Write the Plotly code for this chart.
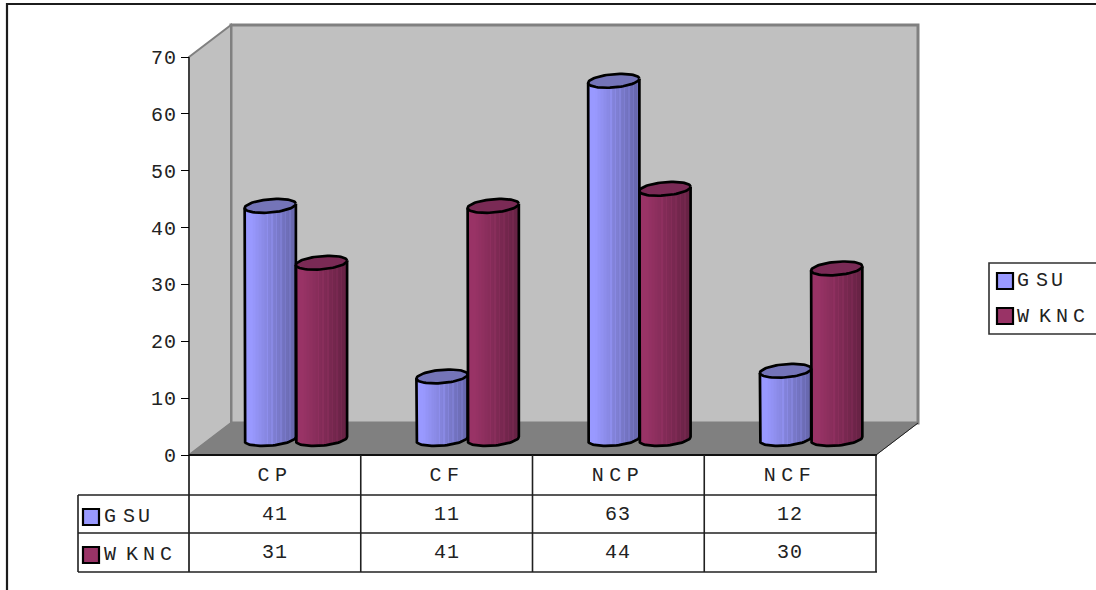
import numpy as np
import plotly.graph_objects as go

# Chart data
categories = ["CP", "CF", "NCP", "NCF"]
gsu_values = [41, 11, 63, 12]
wknc_values = [31, 41, 44, 30]
series_names = ["GSU", "WKNC"]
y_ticks = [0, 10, 20, 30, 40, 50, 60, 70]

# Page and axis geometry, in pixels
W, H = 1096, 590
AXIS_X, AXIS_Y = 189, 455
CAT_PX = 171.75
UNIT_PX = 398 / 70
DEPTH_X, DEPTH_Y = 42, 32

# Cylinder proportions, in pixels
RADIUS_X, RADIUS_Y = 25.7, 6.6
TILT = np.radians(5)
STRIPS = 34

FONT = "Liberation Mono"
TEXT_SIZE = 20
TEXT_COLOUR = "#222222"
BLUE, PLUM = (153, 153, 255), (153, 51, 102)
BLUE_CAP, PLUM_CAP = "#7474B8", "#7A2A55"


def px(x):
    return x / W


def py(y):
    return 1 - y / H


def rgb(c, k):
    return "rgb({},{},{})".format(*[int(round(min(255, v * k))) for v in c])


def shade(c, strips):
    # Lit from the left, falling off toward the right edge, with fine banding
    out = []
    for i in range(strips):
        u = (i + 0.5) / strips
        k = 1.0 if u < 0.14 else 1.0 - 0.34 * (u - 0.14) / 0.86
        if u > 0.42 and i % 3 == 0:
            k += 0.055
        out.append(rgb(c, k))
    return out


def ellipse(steps=73):
    t = np.linspace(0, 2 * np.pi, steps)
    ex = RADIUS_X * np.cos(t) * np.cos(TILT) - RADIUS_Y * np.sin(t) * np.sin(TILT)
    ey = RADIUS_X * np.cos(t) * np.sin(TILT) + RADIUS_Y * np.sin(t) * np.cos(TILT)
    return t, ex, ey


fig = go.Figure()
depth_dx = DEPTH_X / 2 / CAT_PX
depth_dy = DEPTH_Y / 2 / UNIT_PX
t, ex, ey = ellipse()
half = t >= np.pi
lower_x, lower_y = ex[half], ey[half]
order = np.argsort(lower_x)
edge_x = RADIUS_X * np.cos(TILT)


def add_cylinder(cat, side, value, colour, cap):
    centre = cat + 0.5 + depth_dx + side * edge_x / CAT_PX
    strip_px = 2 * edge_x / STRIPS
    offs = -edge_x + strip_px * (np.arange(STRIPS) + 0.5)
    drop = np.interp(offs, lower_x[order], lower_y[order])
    slant = offs * np.tan(TILT)
    base = depth_dy + drop / UNIT_PX
    fig.add_trace(go.Bar(
        x=centre + offs / CAT_PX,
        y=value + depth_dy + slant / UNIT_PX - base,
        base=base,
        width=strip_px / CAT_PX,
        marker=dict(color=shade(colour, STRIPS), line=dict(width=0)),
        showlegend=False, hoverinfo="skip",
    ))
    # Outline of the sides and the lower rim
    side_x = np.r_[-edge_x, lower_x[order], edge_x]
    side_y = np.r_[-edge_x * np.tan(TILT) + value * UNIT_PX,
                   lower_y[order],
                   edge_x * np.tan(TILT) + value * UNIT_PX]
    fig.add_trace(go.Scatter(
        x=centre + side_x / CAT_PX, y=depth_dy + side_y / UNIT_PX,
        mode="lines", line=dict(color="#000000", width=2.7),
        showlegend=False, hoverinfo="skip",
    ))
    # Top cap
    fig.add_trace(go.Scatter(
        x=centre + ex / CAT_PX, y=value + depth_dy + ey / UNIT_PX,
        mode="lines", fill="toself", fillcolor=cap,
        line=dict(color="#000000", width=2.7),
        showlegend=False, hoverinfo="skip",
    ))


for i in range(len(categories)):
    add_cylinder(i, -1, gsu_values[i], BLUE, BLUE_CAP)
    add_cylinder(i, 1, wknc_values[i], PLUM, PLUM_CAP)

shapes = []


def poly(points, fill, line=None, width=0):
    d = "M " + " L ".join(f"{px(a):.5f},{py(b):.5f}" for a, b in points) + " Z"
    shapes.append(dict(type="path", path=d, xref="paper", yref="paper", layer="below",
                       fillcolor=fill, line=dict(color=line or fill, width=width)))


def seg(x0, y0, x1, y1, colour="#202020", width=1.6):
    shapes.append(dict(type="line", xref="paper", yref="paper", layer="below",
                       x0=px(x0), y0=py(y0), x1=px(x1), y1=py(y1),
                       line=dict(color=colour, width=width)))


def box(x0, y0, x1, y1, fill="rgba(0,0,0,0)", colour="#000000", width=1.5):
    shapes.append(dict(type="rect", xref="paper", yref="paper", layer="below",
                       x0=px(x0), y0=py(y0), x1=px(x1), y1=py(y1), fillcolor=fill,
                       line=dict(color=colour, width=width)))


top = AXIS_Y - 70 * UNIT_PX
right = AXIS_X + 4 * CAT_PX

# Outer frame
box(7, 4, W + 4, H + 4, colour="#1c1c1c", width=2.2)
# Walls and floor of the 3-D box
box(AXIS_X + DEPTH_X, top - DEPTH_Y, right + DEPTH_X, AXIS_Y - DEPTH_Y,
    fill="#C0C0C0", colour="#808080", width=3)
poly([(AXIS_X, top), (AXIS_X + DEPTH_X, top - DEPTH_Y),
      (AXIS_X + DEPTH_X, AXIS_Y - DEPTH_Y), (AXIS_X, AXIS_Y)], "#C0C0C0", "#808080", 2)
poly([(AXIS_X, AXIS_Y), (right, AXIS_Y), (right + DEPTH_X, AXIS_Y - DEPTH_Y),
      (AXIS_X + DEPTH_X, AXIS_Y - DEPTH_Y)], "#808080", "#808080", 1)
seg(right, AXIS_Y, right + DEPTH_X, AXIS_Y - DEPTH_Y, "#202020", 1)

# Data table rules
ROWS = [AXIS_Y, 495, 533, 572]
TABLE_LEFT = 78
seg(AXIS_X, top, AXIS_X, ROWS[3], "#404040", 2)
seg(AXIS_X, ROWS[0], right + 1, ROWS[0], "#101010", 1.8)
for r in ROWS[1:]:
    seg(TABLE_LEFT, r, right + 1, r)
seg(TABLE_LEFT, ROWS[1], TABLE_LEFT, ROWS[3])
for i in range(1, 5):
    seg(AXIS_X + i * CAT_PX, ROWS[0], AXIS_X + i * CAT_PX, ROWS[3])

# Swatches in the table and the key
for (x0, y0), fill in zip([(83, 509), (83, 547), (997, 273), (997, 308)],
                          ["#9999FF", "#993366", "#9999FF", "#993366"]):
    box(x0, y0, x0 + 16, y0 + 16, fill=fill, colour="#000000", width=2.2)
# Key box
box(989, 263, W + 3, 334, colour="#303030", width=1.6)

annotations = []


def label(text, x, y, xref="paper", align="center"):
    annotations.append(dict(
        text=text, x=x, y=py(y), xref=xref, yref="paper", showarrow=False,
        xanchor=align, yanchor="middle", align=align, borderpad=0,
        font=dict(family=FONT, size=TEXT_SIZE, color=TEXT_COLOUR),
    ))


for i, cat in enumerate(categories):
    label(cat, i + 0.5, 475, xref="x")
    label(str(gsu_values[i]), i + 0.5, 514, xref="x")
    label(str(wknc_values[i]), i + 0.5, 552, xref="x")
for name, y_t, y_k in zip(series_names, [516, 554], [281, 316]):
    label(name, px(103), y_t, align="left")
    label(name, px(1016), y_k, align="left")

fig.update_layout(
    width=W, height=H, margin=dict(l=0, r=0, t=0, b=0, autoexpand=False),
    paper_bgcolor="#FFFFFF", plot_bgcolor="rgba(0,0,0,0)",
    barmode="overlay", bargap=0,
    font=dict(family=FONT, size=TEXT_SIZE, color=TEXT_COLOUR),
    showlegend=False, shapes=shapes, annotations=annotations,
    xaxis=dict(range=[-AXIS_X / CAT_PX, (W - AXIS_X) / CAT_PX], visible=False, fixedrange=True),
    yaxis=dict(
        range=[-(H - AXIS_Y) / UNIT_PX, AXIS_Y / UNIT_PX],
        anchor="free", position=AXIS_X / W, side="left",
        tickmode="array", tickvals=y_ticks, ticks="outside", ticklen=8, tickwidth=1,
        tickcolor="#000000", showgrid=False, zeroline=False, showline=False,
        fixedrange=True, automargin=False,
        tickfont=dict(family=FONT, size=TEXT_SIZE, color=TEXT_COLOUR),
    ),
)

# Wide tracking on the labels, as plotly has no letter-spacing option; series
# names get per-letter offsets because their gaps are uneven
tracking = """
var gd = document.getElementById('{plot_id}');
var offsets = {GSU: '0 7 3', WKNC: '0 10 5 5'};
gd.querySelectorAll('.ytick text, .annotation-text').forEach(function (t) {
  var s = t.textContent;
  if (offsets[s]) { t.setAttribute('dx', offsets[s]); return; }
  t.style.letterSpacing = /^[0-9]+$/.test(s) ? '1px' : '5.5px';
});
"""
fig.write_html("out.html", post_script=tracking, config={"displayModeBar": False})
